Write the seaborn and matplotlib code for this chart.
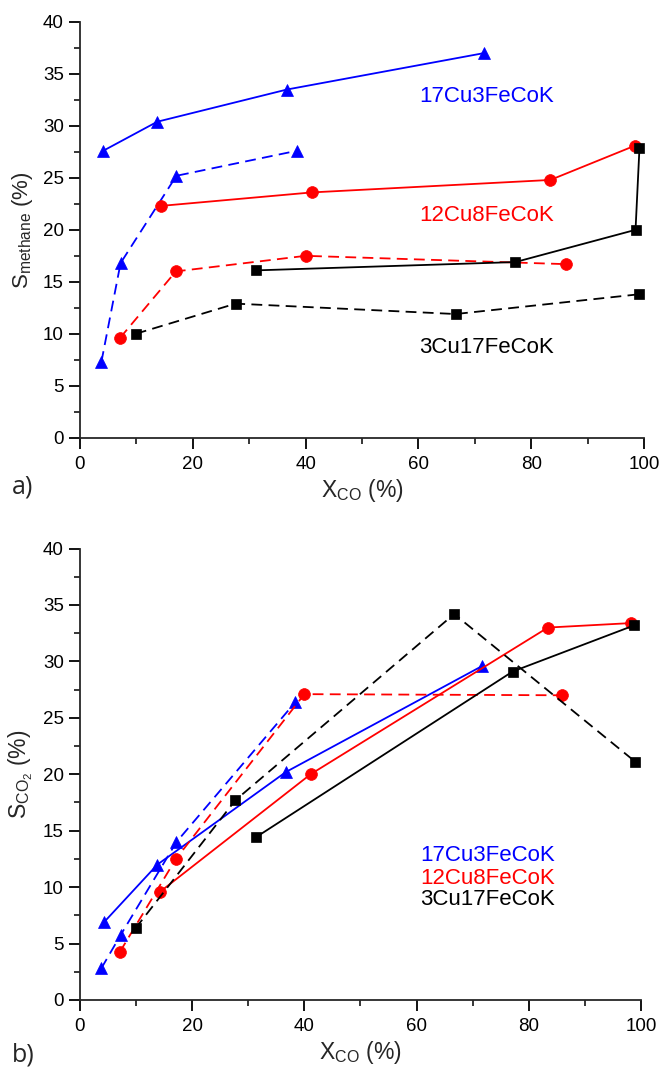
import numpy as np
import pandas as pd
import matplotlib
matplotlib.use("Agg")
import matplotlib.pyplot as plt
from matplotlib.ticker import MultipleLocator
import seaborn as sns

# ---- data: methane selectivity vs CO conversion ----
ch4_cu17_solid_x = [4.1, 13.7, 36.7, 71.6]
ch4_cu17_solid_y = [27.6, 30.4, 33.5, 37.0]
ch4_cu17_dash_x = [3.8, 7.2, 17.1, 38.4]
ch4_cu17_dash_y = [7.3, 16.8, 25.2, 27.6]

ch4_cu12_solid_x = [14.3, 41.1, 83.4, 98.4]
ch4_cu12_solid_y = [22.3, 23.6, 24.8, 28.1]
ch4_cu12_dash_x = [7.1, 17.0, 40.0, 86.1]
ch4_cu12_dash_y = [9.6, 16.0, 17.5, 16.7]

ch4_cu3_solid_x = [31.2, 77.2, 98.5, 99.2]
ch4_cu3_solid_y = [16.1, 16.9, 20.0, 27.9]
ch4_cu3_dash_x = [9.9, 27.6, 66.6, 99.1]
ch4_cu3_dash_y = [10.0, 12.9, 11.9, 13.8]

# ---- data: CO2 selectivity vs CO conversion ----
co2_cu17_solid_x = [4.3, 13.8, 36.7, 71.7]
co2_cu17_solid_y = [6.9, 12.0, 20.2, 29.6]
co2_cu17_dash_x = [3.8, 7.3, 17.2, 38.4]
co2_cu17_dash_y = [2.8, 5.8, 14.0, 26.4]

co2_cu12_solid_x = [14.3, 41.1, 83.4, 98.3]
co2_cu12_solid_y = [9.6, 20.0, 33.0, 33.4]
co2_cu12_dash_x = [7.1, 17.1, 40.0, 86.0]
co2_cu12_dash_y = [4.25, 12.5, 27.1, 27.0]

co2_cu3_solid_x = [31.3, 77.1, 98.8]
co2_cu3_solid_y = [14.4, 29.1, 33.2]
co2_cu3_dash_x = [9.9, 27.7, 66.7, 99.0]
co2_cu3_dash_y = [6.35, 17.7, 34.2, 21.1]

catalysts = ["17Cu3FeCoK", "12Cu8FeCoK", "3Cu17FeCoK"]
colors = ["#0000ff", "#ff0000", "#000000"]
markers = ["^", "o", "s"]
marker_sizes = [9, 8.5, 7]

sns.set_style("ticks")
plt.rcParams["font.family"] = ["Liberation Sans", "DejaVu Sans"]
plt.rcParams["mathtext.fontset"] = "custom"
plt.rcParams["mathtext.rm"] = "Liberation Sans"
plt.rcParams["mathtext.it"] = "Liberation Sans:italic"
plt.rcParams["axes.linewidth"] = 1.3

fig = plt.figure(figsize=(6.62, 10.71), dpi=100)
ax1 = fig.add_axes([0.1208, 0.5913, 0.852, 0.3882])
ax2 = fig.add_axes([0.1208, 0.0663, 0.8475, 0.4215])

DASH = (6, 3.5)


def draw(ax, x, y, color, marker, ms, dashed):
    df = pd.DataFrame({"x": x, "y": y})
    kw = dict(dashes=DASH) if dashed else {}
    sns.lineplot(data=df, x="x", y="y", ax=ax, sort=False, estimator=None,
                 color=color, marker=marker, markersize=ms,
                 markeredgecolor=color, markeredgewidth=0.5,
                 linewidth=1.3, **kw)


top_series = [
    (ch4_cu17_solid_x, ch4_cu17_solid_y, ch4_cu17_dash_x, ch4_cu17_dash_y),
    (ch4_cu12_solid_x, ch4_cu12_solid_y, ch4_cu12_dash_x, ch4_cu12_dash_y),
    (ch4_cu3_solid_x, ch4_cu3_solid_y, ch4_cu3_dash_x, ch4_cu3_dash_y),
]
bottom_series = [
    (co2_cu17_solid_x, co2_cu17_solid_y, co2_cu17_dash_x, co2_cu17_dash_y),
    (co2_cu12_solid_x, co2_cu12_solid_y, co2_cu12_dash_x, co2_cu12_dash_y),
    (co2_cu3_solid_x, co2_cu3_solid_y, co2_cu3_dash_x, co2_cu3_dash_y),
]

for ax, series in ((ax1, top_series), (ax2, bottom_series)):
    for (sx, sy, dx, dy), c, m, ms in zip(series, colors, markers, marker_sizes):
        draw(ax, dx, dy, c, m, ms, True)
        draw(ax, sx, sy, c, m, ms, False)

for ax in (ax1, ax2):
    ax.set_xlim(0, 100)
    ax.set_ylim(0, 40)
    ax.xaxis.set_major_locator(MultipleLocator(20))
    ax.xaxis.set_minor_locator(MultipleLocator(10))
    ax.yaxis.set_major_locator(MultipleLocator(5))
    ax.yaxis.set_minor_locator(MultipleLocator(2.5))
    ax.tick_params(which="major", direction="out", length=8, width=1.3,
                   labelsize=13.5, colors="#000000")
    ax.tick_params(which="minor", direction="out", length=4.5, width=1.3)
    ax.tick_params(axis="x", pad=5)
    sns.despine(ax=ax)
    ax.set_xlabel(r"X$_\mathregular{CO}$ (%)", fontsize=16.5, labelpad=3)

ax1.set_ylabel(r"S$_\mathregular{methane}$ (%)", fontsize=16, labelpad=6)
ax2.set_ylabel(r"S$_{\mathregular{CO_2}}$ (%)", fontsize=16.5, labelpad=6)

# series names in the methane panel
ax1.text(72.1, 32.8, catalysts[0], color=colors[0], fontsize=16,
         ha="center", va="center")
ax1.text(72.1, 21.4, catalysts[1], color=colors[1], fontsize=16,
         ha="center", va="center")
ax1.text(72.1, 8.7, catalysts[2], color=colors[2], fontsize=16,
         ha="center", va="center")

# stacked key in the CO2 panel
for name, c, yv in zip(catalysts, colors, [12.8, 10.8, 8.9]):
    ax2.text(72.7, yv, name, color=c, fontsize=16, ha="center", va="center")

fig.text(0.018, 0.545, "a)", fontsize=18, ha="left", va="center",
         family=["Open Sans", "DejaVu Sans"])
fig.text(0.018, 0.015, "b)", fontsize=18, ha="left", va="center",
         family=["Open Sans", "DejaVu Sans"])

fig.savefig("out.png", dpi=100)
